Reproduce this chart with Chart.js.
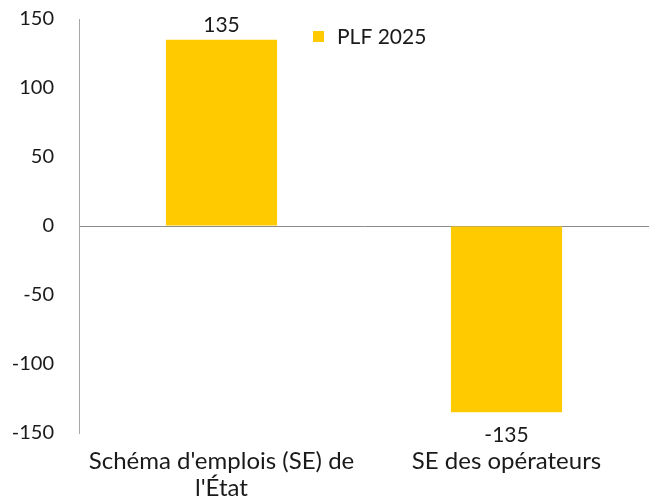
<!DOCTYPE html>
<html>
<head>
<meta charset="utf-8">
<script src="https://cdn.jsdelivr.net/npm/chart.js@4"></script>
<style>
  html, body { margin: 0; padding: 0; background: #ffffff; }
  #wrap { width: 651px; height: 500px; position: relative; }
</style>
</head>
<body>
<div id="wrap"><canvas id="chart"></canvas></div>
<script>
const categories = [["Schéma d'emplois (SE) de", "l'État"], "SE des opérateurs"];
const seriesName = 'PLF 2025';
const values = [135, -135];
const yTicks = [-150, -100, -50, 0, 50, 100, 150];

const barColor = '#FFCA00';
const fontFamily = "Lato, 'Open Sans', sans-serif";

// value labels above / below each bar
const valueLabels = {
    id: 'valueLabels',
    afterDatasetsDraw(chart) {
        const ctx = chart.ctx;
        const meta = chart.getDatasetMeta(0);
        ctx.save();
        ctx.font = '21px ' + fontFamily;
        ctx.fillStyle = '#1a1a1a';
        ctx.textAlign = 'center';
        meta.data.forEach(function(bar, i) {
            const v = values[i];
            if (v >= 0) {
                ctx.textBaseline = 'bottom';
                ctx.fillText(String(v), bar.x, bar.y - 4);
            } else {
                ctx.textBaseline = 'top';
                ctx.fillText(String(v), bar.x, bar.y + 12);
            }
        });
        ctx.restore();
    }
};

// legend drawn inside the plot area
const insideLegend = {
    id: 'insideLegend',
    afterDraw(chart) {
        const ctx = chart.ctx;
        ctx.save();
        ctx.fillStyle = barColor;
        ctx.fillRect(313, 31, 11, 11);
        ctx.font = '21px ' + fontFamily;
        ctx.fillStyle = '#1a1a1a';
        ctx.textAlign = 'left';
        ctx.textBaseline = 'middle';
        ctx.fillText(seriesName, 337, 37);
        ctx.restore();
    }
};

new Chart(document.getElementById('chart').getContext('2d'), {
    type: 'bar',
    data: {
        labels: categories,
        datasets: [{
            label: seriesName,
            data: values,
            backgroundColor: barColor,
            borderWidth: 0,
            barPercentage: 0.39,
            categoryPercentage: 1
        }]
    },
    options: {
        responsive: true,
        maintainAspectRatio: false,
        animation: false,
        layout: { padding: { top: 19, right: 2, left: 0, bottom: 0 } },
        plugins: {
            legend: { display: false },
            tooltip: { enabled: false }
        },
        scales: {
            x: {
                grid: { display: false, drawTicks: false },
                border: { display: false },
                ticks: {
                    color: '#1a1a1a',
                    font: { family: fontFamily, size: 24, lineHeight: 1.15 },
                    padding: 14,
                    maxRotation: 0
                },
                afterFit: function(axis) {
                    axis.height = 67;
                    axis.paddingLeft = 0;
                    axis.paddingRight = 0;
                }
            },
            y: {
                min: -150,
                max: 150,
                afterBuildTicks: function(axis) {
                    axis.ticks = yTicks.map(function(v) { return { value: v }; });
                },
                border: { display: true, color: '#a6a6a6', width: 1 },
                grid: {
                    drawTicks: false,
                    lineWidth: 1,
                    color: function(c) {
                        return c.tick && c.tick.value === 0 ? '#8c8c8c' : 'rgba(0,0,0,0)';
                    }
                },
                ticks: {
                    color: '#1a1a1a',
                    font: { family: fontFamily, size: 20 },
                    padding: 25
                },
                afterFit: function(axis) {
                    axis.width = 79;
                    axis.paddingTop = 0;
                    axis.paddingBottom = 0;
                }
            }
        }
    },
    plugins: [valueLabels, insideLegend]
});
</script>
</body>
</html>
